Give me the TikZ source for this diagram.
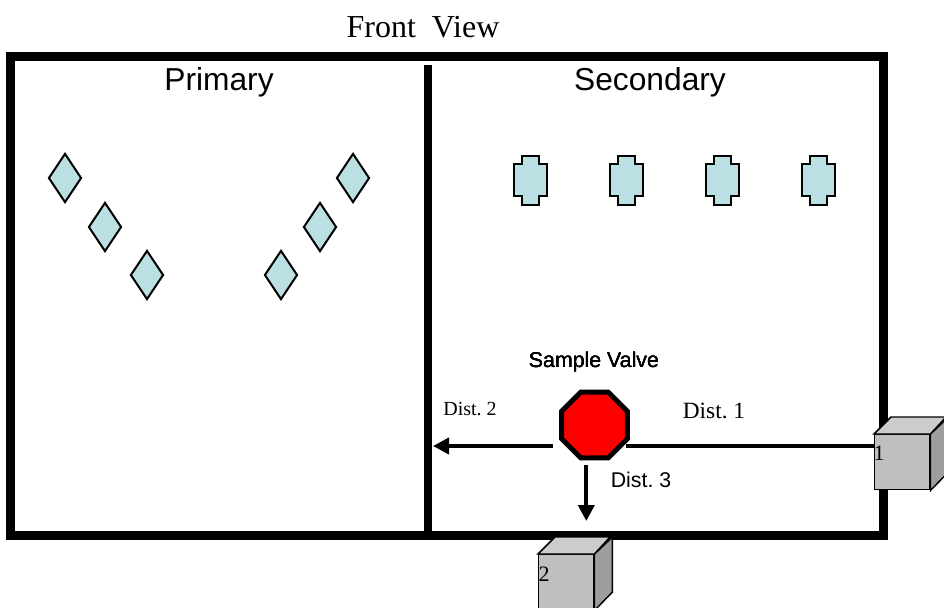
\documentclass[tikz,border=0pt]{standalone}
\usepackage{fontspec}
\setmainfont{Liberation Serif}
\setsansfont{Liberation Sans}
\usetikzlibrary{shapes.geometric,arrows.meta}
\definecolor{tealfill}{HTML}{BBE0E3}
\frenchspacing
\tikzset{
  x=0.75pt,y=-0.75pt,
  frameline/.style={draw=black,line width=6.75pt,line join=miter},
  divider/.style={draw=black,line width=5.6pt},
  gem/.style={diamond,draw=black,fill=tealfill,line width=1.5pt,minimum width=24.75pt,minimum height=36.75pt,inner sep=0pt},
  plaque/.style={draw=black,fill=tealfill,line width=1.5pt,line join=miter},
  valve/.style={regular polygon,regular polygon sides=8,draw=black,fill=red,line width=3.75pt,minimum size=53.5pt,inner sep=0pt},
  conn/.style={draw=black,line width=2.9pt},
  arrowconn/.style={conn,-{Triangle[length=12pt,width=12pt]}},
  cubeline/.style={draw=black,line width=1.1pt,line join=miter},
  label/.style={inner sep=0pt,text=black},
  box/.style={inner sep=0pt,minimum size=41.25pt,draw=black,fill=black!25,line width=1.1pt,anchor=north west},
}
\newcommand{\plaqueat}[2]{%
  \draw[plaque] ([shift={(-8.5,-24.5)}]#1,#2) -- ++(17,0) -- ++(0,8.5) -- ++(7.7,0) -- ++(0,32) -- ++(-7.7,0) -- ++(0,8.5) -- ++(-17,0) -- ++(0,-8.5) -- ++(-7.7,0) -- ++(0,-32) -- ++(7.7,0) -- cycle;}
\newcommand{\sidesof}[1]{%
  \draw[cubeline,fill=black!20] (#1.north west) -- ++(17,-17) -- ++(55,0) -- (#1.north east) -- cycle;
  \draw[cubeline,fill=black!38] (#1.north east) -- ++(18,-17) -- ++(0,55) -- (#1.south east) -- cycle;}
\begin{document}
\begin{tikzpicture}
\useasboundingbox (0,0) rectangle (944,607);
\draw[frameline] (10.5,56.5) rectangle (883,535.5);
\coordinate (divtop) at (428,65);
\coordinate (divbot) at (428,531);
\draw[divider] (divtop) -- (divbot);
\node[label,font=\fontsize{24}{28}\selectfont] (title) at (423,27) {Front\ \ View};
\node[label,font=\sffamily\fontsize{23.8}{28}\selectfont] (primary) at (219,82) {Primary};
\node[label,font=\sffamily\fontsize{23.8}{28}\selectfont] (secondary) at (650,82) {Secondary};
\foreach \n/\px/\py in {a/65/178,b/105/227,c/147/275,d/353/178,e/320/227,f/281/275}
  \node[gem] (gem\n) at (\px,\py) {};
\foreach \px in {530.5,626.5,722.5,818.5}
  \plaqueat{\px}{180}
\node[label,font=\sffamily\fontsize{16}{19}\selectfont] (sv) at (594,362) {Sample Valve};
\node[valve] (valve) at (594.5,425) {};
\node[box] (c1) at (874,434) {};
\sidesof{c1}
\node[box] (c2) at (538,554) {};
\sidesof{c2}
\node[label,font=\fontsize{16.5}{19}\selectfont] (one) at (879,453) {1};
\node[label,font=\fontsize{16.5}{19}\selectfont] (two) at (544,574) {2};
\coordinate (vr) at (626,446);
\coordinate (c1l) at (874,446);
\coordinate (al) at (553,446);
\coordinate (ale) at (433,446);
\coordinate (ad) at (586.3,465);
\coordinate (ade) at (586.3,521);
\draw[conn] (vr) -- (c1l);
\draw[arrowconn] (al) -- (ale);
\draw[arrowconn] (ad) -- (ade);
\node[label,font=\fontsize{15}{18}\selectfont] (d2) at (470,409) {Dist. 2};
\node[label,font=\fontsize{17.5}{21}\selectfont] (d1) at (714,411) {Dist. 1};
\node[label,font=\sffamily\fontsize{16}{19}\selectfont] (d3) at (641,480) {Dist. 3};
\end{tikzpicture}
\end{document}
